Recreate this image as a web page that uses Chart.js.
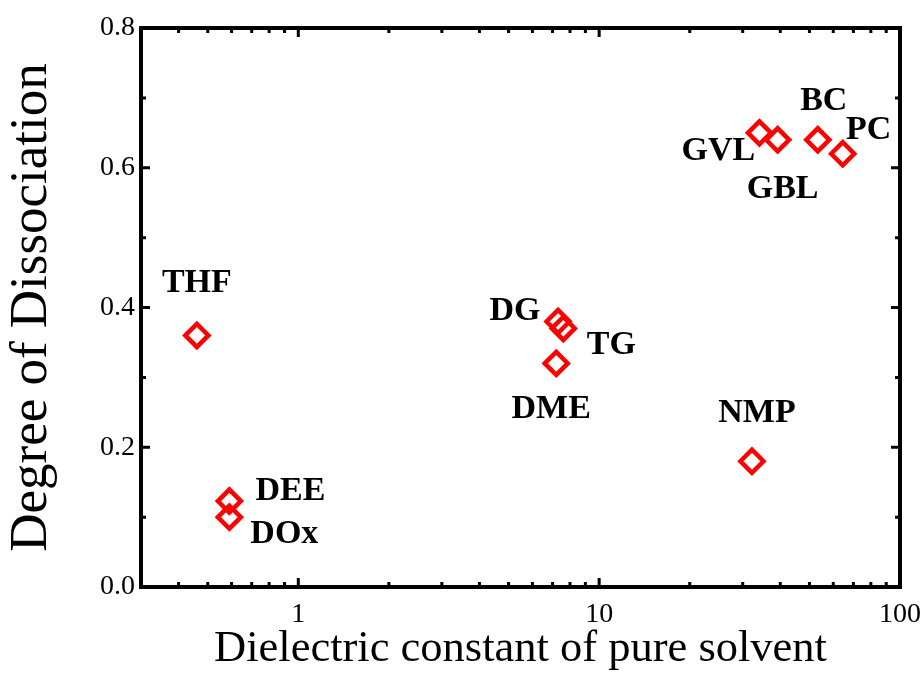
<!DOCTYPE html>
<html>
<head>
<meta charset="utf-8">
<title>Degree of Dissociation vs Dielectric constant</title>
<script src="https://cdn.jsdelivr.net/npm/chart.js@4"></script>
<style>
  html, body { margin: 0; padding: 0; background: #ffffff; }
  canvas { display: block; }
</style>
</head>
<body>
<canvas id="chart" width="923" height="674"></canvas>
<script>
// Solvents and their measured values
const solvents     = ['THF', 'DEE', 'DOx', 'DG', 'TG', 'DME', 'NMP', 'GVL', 'GBL', 'BC', 'PC'];
const dielectric   = [0.46, 0.59, 0.59, 7.3, 7.6, 7.2, 32.2, 34.1, 39.2, 53.3, 64.5];
const dissociation = [0.36, 0.123, 0.10, 0.38, 0.37, 0.32, 0.18, 0.65, 0.64, 0.64, 0.62];

// Axis ticks
const xMajorTicks = [1, 10, 100];
const xMinorTicks = [0.4, 0.5, 0.6, 0.7, 0.8, 0.9, 2, 3, 4, 5, 6, 7, 8, 9, 20, 30, 40, 50, 60, 70, 80, 90];
const yMajorTicks = [0, 0.2, 0.4, 0.6, 0.8];
const yMinorTicks = [0.1, 0.3, 0.5, 0.7];

// Where each solvent name sits relative to its marker (pixels)
const labelOffsets = [
  [0, -55], [61, -13], [55, 14], [-43, -13], [48, 14], [-5, 43],
  [5, -51], [-41, 16], [5, 47], [6, -41], [26, -26]
];

const SERIF = "'Liberation Serif', 'Times New Roman', Times, serif";

const points = dielectric.map((x, i) => ({ x: x, y: dissociation[i] }));

// Frame, inward ticks on all four sides, and solvent names
const framePlugin = {
  id: 'frame',
  beforeDraw(chart) {
    const c = chart.ctx;
    c.save();
    c.fillStyle = '#ffffff';
    c.fillRect(0, 0, chart.width, chart.height);
    c.restore();
  },
  afterDraw(chart) {
    const c = chart.ctx;
    const a = chart.chartArea;
    const xs = chart.scales.x, ys = chart.scales.y;
    c.save();
    c.strokeStyle = '#000000';
    c.lineCap = 'butt';

    // ticks
    c.lineWidth = 3;
    const xTick = (v, len) => {
      const px = xs.getPixelForValue(v);
      c.beginPath();
      c.moveTo(px, a.bottom); c.lineTo(px, a.bottom - len);
      c.moveTo(px, a.top); c.lineTo(px, a.top + len);
      c.stroke();
    };
    const yTick = (v, len) => {
      const py = ys.getPixelForValue(v);
      c.beginPath();
      c.moveTo(a.left, py); c.lineTo(a.left + len, py);
      c.moveTo(a.right, py); c.lineTo(a.right - len, py);
      c.stroke();
    };
    xMajorTicks.forEach(v => xTick(v, 9));
    xMinorTicks.forEach(v => xTick(v, 5));
    yMajorTicks.forEach(v => yTick(v, 9));
    yMinorTicks.forEach(v => yTick(v, 5));

    // frame
    c.lineWidth = 4;
    c.lineJoin = 'miter';
    c.strokeRect(a.left, a.top, a.right - a.left, a.bottom - a.top);

    // solvent names
    c.fillStyle = '#000000';
    c.font = 'bold 34px ' + SERIF;
    c.textAlign = 'center';
    c.textBaseline = 'alphabetic';
    const meta = chart.getDatasetMeta(0);
    meta.data.forEach((pt, i) => {
      const off = labelOffsets[i];
      c.fillText(solvents[i], pt.x + off[0], pt.y + off[1] + 11.5);
    });
    c.restore();
  }
};

new Chart(document.getElementById('chart'), {
  type: 'scatter',
  data: {
    datasets: [{
      data: points,
      pointStyle: 'rectRot',
      pointRadius: 11.5,
      pointHoverRadius: 11.5,
      pointBorderWidth: 4.5,
      pointHoverBorderWidth: 4.5,
      borderColor: '#ff0000',
      backgroundColor: 'rgba(0,0,0,0)',
      showLine: false
    }]
  },
  options: {
    responsive: false,
    animation: false,
    devicePixelRatio: 1,
    layout: { padding: { left: 0, right: 23, top: 28, bottom: 0 } },
    plugins: {
      legend: { display: false },
      tooltip: { enabled: false }
    },
    scales: {
      x: {
        type: 'logarithmic',
        position: 'bottom',
        min: 0.3,
        max: 100,
        afterBuildTicks: s => { s.ticks = xMajorTicks.map(v => ({ value: v })); },
        afterFit: s => { s.height = 87; s.paddingLeft = 0; s.paddingRight = 0; },
        grid: { display: false, drawTicks: false },
        border: { display: false },
        ticks: {
          autoSkip: false,
          maxRotation: 0,
          padding: 11,
          color: '#000000',
          font: { family: SERIF, size: 28 },
          callback: v => String(v)
        },
        title: {
          display: true,
          text: 'Dielectric constant of pure solvent',
          color: '#000000',
          font: { family: SERIF, size: 44.5, lineHeight: 1 },
          padding: { top: 0, bottom: 2 }
        }
      },
      y: {
        min: 0,
        max: 0.8,
        afterBuildTicks: s => { s.ticks = yMajorTicks.map(v => ({ value: v })); },
        afterFit: s => { s.width = 141; s.paddingTop = 0; s.paddingBottom = 0; },
        grid: { display: false, drawTicks: false },
        border: { display: false },
        ticks: {
          padding: 6,
          color: '#000000',
          font: { family: SERIF, size: 28 },
          callback: v => Number(v).toFixed(1)
        },
        title: {
          display: true,
          text: 'Degree of Dissociation',
          color: '#000000',
          font: { family: SERIF, size: 53, lineHeight: 1 },
          padding: { top: 6, bottom: 0 }
        }
      }
    }
  },
  plugins: [framePlugin]
});
</script>
</body>
</html>
